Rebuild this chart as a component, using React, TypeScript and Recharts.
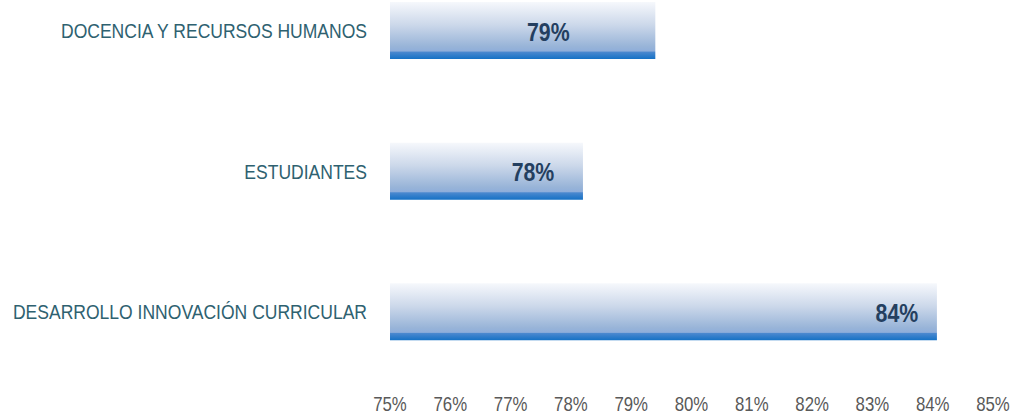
import { Bar, BarChart, LabelList, XAxis, YAxis } from "recharts";

const categories = [
  "DOCENCIA Y RECURSOS HUMANOS",
  "ESTUDIANTES",
  "DESARROLLO INNOVACIÓN CURRICULAR",
];
const scores = [79.4, 78.2, 84.07];
const xTicks = [75, 76, 77, 78, 79, 80, 81, 82, 83, 84, 85];

const data = categories.map((name, i) => ({ name, score: scores[i] }));

// distance from the bar end to the label centre, per bar
const labelInset = [107, 50, 40];

const font = '"Liberation Sans", Arial, sans-serif';
const squeeze = 0.82; // fake Arial Narrow

function CategoryTick(props: any) {
  const { x, y, payload } = props;
  return (
    <g transform={`translate(${x},${y}) scale(0.835,1)`}>
      <text
        x={0}
        y={0}
        textAnchor="end"
        dominantBaseline="central"
        fontFamily={font}
        fontSize={21}
        fill="#2E6170"
      >
        {payload.value}
      </text>
    </g>
  );
}

function PercentTick(props: any) {
  const { x, y, payload } = props;
  return (
    <g transform={`translate(${x},${y}) scale(0.84,1)`}>
      <text
        x={0}
        y={0}
        dy="0.71em"
        textAnchor="middle"
        fontFamily={font}
        fontSize={20}
        fill="#595959"
      >
        {`${payload.value}%`}
      </text>
    </g>
  );
}

function ValueLabel(props: any) {
  const { x, y, width, height, value, index } = props;
  const cx = x + width - labelInset[index];
  return (
    <g transform={`translate(${cx},${y + height / 2 + 1}) scale(${squeeze},1)`}>
      <text
        x={0}
        y={0}
        textAnchor="middle"
        dominantBaseline="central"
        fontFamily={font}
        fontWeight="bold"
        fontSize={26}
        fill="#243F60"
      >
        {`${Math.round(value)}%`}
      </text>
    </g>
  );
}

export default function App() {
  return (
    <div style={{ position: "absolute", left: 0, top: 0, background: "#fff" }}>
      <BarChart
        width={1016}
        height={417}
        layout="vertical"
        data={data}
        margin={{ top: -40, right: 23, left: 0, bottom: 5 }}
      >
        <defs>
          <linearGradient id="barFill" x1="0" y1="0" x2="0" y2="1">
            <stop offset="0%" stopColor="#F6F8FC" />
            <stop offset="40%" stopColor="#CCD8EA" />
            <stop offset="78%" stopColor="#98B4D8" />
            <stop offset="86%" stopColor="#8FAEDA" />
            <stop offset="88%" stopColor="#4A88CF" />
            <stop offset="100%" stopColor="#1571C5" />
          </linearGradient>
        </defs>
        <XAxis
          type="number"
          domain={[75, 85]}
          ticks={xTicks}
          height={30}
          axisLine={false}
          tickLine={false}
          tickSize={0}
          tickMargin={15}
          interval={0}
          tick={<PercentTick />}
        />
        <YAxis
          type="category"
          dataKey="name"
          width={390}
          axisLine={false}
          tickLine={false}
          tickSize={0}
          tickMargin={23}
          tick={<CategoryTick />}
        />
        <Bar dataKey="score" fill="url(#barFill)" barSize={57} isAnimationActive={false}>
          <LabelList dataKey="score" content={ValueLabel} />
        </Bar>
      </BarChart>
    </div>
  );
}
